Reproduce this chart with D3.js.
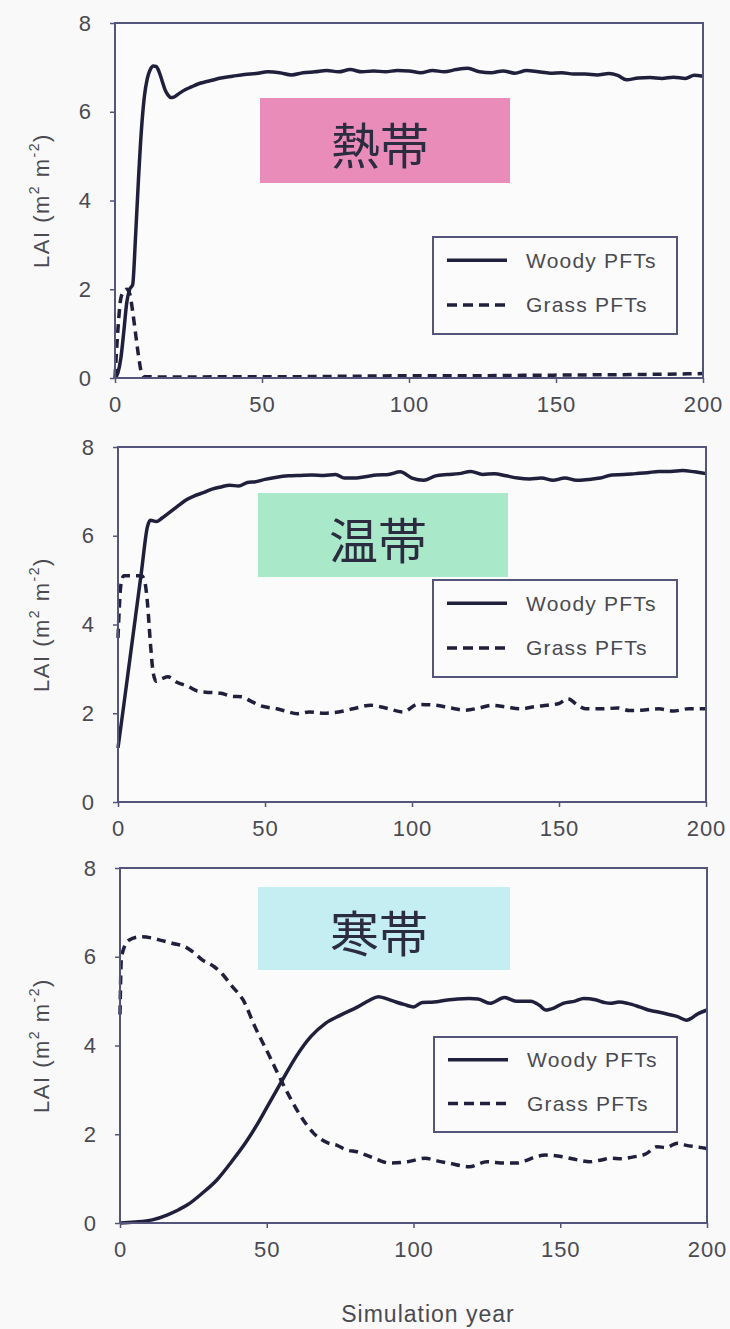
<!DOCTYPE html>
<html>
<head>
<meta charset="utf-8">
<script src="https://cdn.jsdelivr.net/npm/d3@7/dist/d3.min.js"></script>
<style>
  html, body { margin: 0; padding: 0; background: #f9f9f9; }
  svg { display: block; }
</style>
</head>
<body>
<script>
// Leaf area index over 200 simulation years, for three climate zones.
const xTicks = [0, 50, 100, 150, 200];
const yTicks = [0, 2, 4, 6, 8];
const zoneNames = ["熱帯", "温帯", "寒帯"];
const zoneColors = ["#ea8cba", "#a9e9ca", "#c4eef1"];
const seriesNames = ["Woody PFTs", "Grass PFTs"];

// [year, LAI] — tropical
const tropicalWoody = [
  [0,0],[1,0.12],[2,0.45],[3,1.05],[4,1.7],[5,2.0],[6,2.1],[7,3.2],[8,4.5],[9,5.6],
  [10,6.35],[11,6.75],[12,6.95],[13,7.03],[14,7.02],[15,6.9],[16,6.7],[17,6.5],[18,6.38],
  [19,6.32],[20,6.33],[22,6.42],[24,6.5],[26,6.56],[28,6.62],[30,6.66],[33,6.71],[36,6.76],
  [40,6.8],[44,6.84],[48,6.86],[52,6.9],[56,6.88],[60,6.83],[64,6.88],[68,6.9],[72,6.93],
  [76,6.9],[80,6.95],[84,6.9],[88,6.92],[92,6.9],[96,6.93],[100,6.92],[104,6.88],[108,6.93],
  [112,6.9],[116,6.95],[120,6.98],[124,6.9],[128,6.88],[132,6.92],[136,6.87],[140,6.93],
  [144,6.9],[148,6.87],[152,6.88],[156,6.85],[160,6.85],[164,6.83],[168,6.86],[171,6.82],
  [174,6.72],[178,6.76],[182,6.77],[186,6.75],[190,6.78],[194,6.75],[197,6.82],[200,6.8]
];
const tropicalGrass = [
  [0,0],[1,1.1],[2,1.8],[3,1.95],[4,2.0],[5,1.9],[6,1.5],[7,1.0],[8,0.5],[9,0.12],
  [10,0.03],[20,0.02],[40,0.03],[60,0.03],[80,0.04],[100,0.05],[120,0.05],[140,0.06],
  [160,0.07],[180,0.08],[200,0.1]
];

// [year, LAI] — temperate
const temperateWoody = [
  [0,1.22],[2,2.2],[4,3.2],[6,4.2],[8,5.2],[10,6.2],[11,6.35],[13,6.32],[15,6.4],[17,6.5],
  [20,6.65],[23,6.8],[26,6.9],[29,6.97],[32,7.05],[35,7.1],[38,7.14],[41,7.12],[44,7.2],
  [47,7.22],[50,7.27],[54,7.32],[58,7.35],[62,7.36],[66,7.37],[70,7.36],[74,7.38],[77,7.3],
  [80,7.3],[84,7.33],[88,7.37],[92,7.38],[96,7.44],[100,7.3],[104,7.25],[108,7.35],[112,7.38],
  [116,7.4],[120,7.45],[124,7.38],[128,7.4],[132,7.35],[136,7.3],[140,7.28],[144,7.3],
  [148,7.25],[152,7.3],[156,7.25],[160,7.27],[164,7.3],[168,7.37],[172,7.38],[176,7.4],
  [180,7.42],[184,7.45],[188,7.45],[192,7.47],[196,7.44],[200,7.4]
];
const temperateGrass = [
  [0,3.7],[1,4.9],[2,5.1],[4,5.1],[6,5.1],[8,5.1],[9,5.0],[10,4.5],[11,3.6],[12,2.9],
  [13,2.72],[15,2.78],[17,2.82],[20,2.7],[24,2.6],[27,2.5],[31,2.47],[35,2.45],[39,2.38],
  [42,2.37],[45,2.28],[48,2.18],[54,2.1],[57,2.05],[61,1.99],[65,2.03],[70,2.0],[75,2.03],
  [80,2.1],[86,2.18],[91,2.12],[97,2.03],[102,2.2],[108,2.18],[113,2.12],[118,2.07],
  [123,2.12],[127,2.18],[132,2.14],[137,2.1],[142,2.15],[146,2.18],[150,2.22],[153,2.33],
  [156,2.2],[159,2.1],[165,2.1],[170,2.12],[174,2.06],[178,2.07],[184,2.1],[189,2.05],
  [194,2.1],[200,2.1]
];

// [year, LAI] — boreal
const borealWoody = [
  [0,0],[5,0.02],[11,0.07],[16,0.18],[20,0.3],[23,0.41],[28,0.67],[33,0.97],[38,1.38],
  [43,1.83],[47,2.25],[50,2.6],[53,2.95],[56,3.3],[60,3.75],[65,4.2],[70,4.5],[75,4.68],[81,4.87],
  [85,5.02],[88,5.1],[91,5.05],[94,4.98],[97,4.92],[100,4.87],[103,4.97],[107,4.98],
  [111,5.02],[115,5.05],[119,5.06],[122,5.05],[126,4.95],[131,5.08],[135,5.0],[140,5.0],
  [143,4.9],[145,4.8],[148,4.85],[151,4.95],[155,5.0],[158,5.06],[162,5.03],[165,4.97],
  [167,4.95],[170,4.98],[173,4.95],[177,4.87],[180,4.8],[183,4.76],[187,4.7],[190,4.65],
  [193,4.57],[197,4.72],[200,4.8]
];
const borealGrass = [
  [0,4.7],[0.5,6.0],[3,6.37],[7,6.45],[11,6.42],[14,6.37],[18,6.3],[22,6.23],[25,6.1],
  [28,5.93],[32,5.78],[35,5.6],[38,5.35],[42,5.02],[46,4.42],[51,3.75],[56,3.07],
  [61,2.47],[66,2.02],[71,1.8],[74,1.75],[77,1.65],[81,1.6],[85,1.5],[88,1.42],[92,1.35],
  [98,1.38],[104,1.46],[108,1.4],[112,1.35],[119,1.27],[125,1.38],[131,1.35],[135,1.35],
  [138,1.4],[142,1.5],[145,1.53],[151,1.49],[156,1.42],[160,1.38],[164,1.42],[167,1.46],
  [171,1.45],[175,1.49],[179,1.55],[183,1.72],[186,1.7],[190,1.8],[193,1.75],[196,1.72],
  [200,1.68]
];

const panelSeries = [
  [tropicalWoody, tropicalGrass],
  [temperateWoody, temperateGrass],
  [borealWoody, borealGrass]
];

const W = 730, H = 1329;
const ink = "#20203c";
const frame = "#55557c";
const labelInk = "#4a4a52";
const latin = "'Liberation Sans', Arial, sans-serif";
const cjk = "'Noto Sans CJK JP', 'Noto Sans CJK SC', sans-serif";

// Per-panel frame and annotation boxes
const panels = [
  { left: 115, right: 703, top: 23,  bottom: 378,
    zone: { x: 260, y: 98,  w: 250, h: 85 },
    legend: { x: 433, y: 237, w: 244, h: 97 } },
  { left: 118, right: 706, top: 447, bottom: 802,
    zone: { x: 258, y: 493, w: 250, h: 84 },
    legend: { x: 433, y: 580, w: 244, h: 97 } },
  { left: 120, right: 707, top: 868, bottom: 1223,
    zone: { x: 258, y: 887, w: 252, h: 83 },
    legend: { x: 434, y: 1037, w: 243, h: 95 } }
];

const svg = d3.select("body").append("svg")
  .attr("width", W).attr("height", H)
  .style("background", "#f9f9f9");

panels.forEach((p, i) => {
  const x = d3.scaleLinear().domain([0, 200]).range([p.left, p.right]);
  const y = d3.scaleLinear().domain([0, 8]).range([p.bottom, p.top]);
  const g = svg.append("g");

  // plot area
  g.append("rect")
    .attr("x", p.left).attr("y", p.top)
    .attr("width", p.right - p.left).attr("height", p.bottom - p.top)
    .attr("fill", "#fbfbfb");

  // climate zone label box
  g.append("rect")
    .attr("x", p.zone.x).attr("y", p.zone.y)
    .attr("width", p.zone.w).attr("height", p.zone.h)
    .attr("fill", zoneColors[i]);
  g.append("text")
    .attr("x", p.zone.x + p.zone.w / 2 - 5).attr("y", p.zone.y + p.zone.h / 2 + 2)
    .attr("text-anchor", "middle").attr("dominant-baseline", "central")
    .attr("font-family", cjk).attr("font-size", 49).attr("font-weight", 400)
    .attr("fill", "#2c2c40")
    .text(zoneNames[i]);

  // series
  const line = d3.line()
    .x(d => x(d[0])).y(d => y(d[1]))
    .curve(d3.curveMonotoneX);
  const [woody, grass] = panelSeries[i];
  g.append("path").datum(grass)
    .attr("d", line).attr("fill", "none")
    .attr("stroke", ink).attr("stroke-width", 3.5)
    .attr("stroke-dasharray", "9,6");
  g.append("path").datum(woody)
    .attr("d", line).attr("fill", "none")
    .attr("stroke", ink).attr("stroke-width", 3.5)
    .attr("stroke-linejoin", "round");

  // frame
  g.append("rect")
    .attr("x", p.left).attr("y", p.top)
    .attr("width", p.right - p.left).attr("height", p.bottom - p.top)
    .attr("fill", "none").attr("stroke", frame).attr("stroke-width", 2);

  // axes
  const yAxis = d3.axisLeft(y).tickValues(yTicks).tickSize(5).tickPadding(18);
  const xAxis = d3.axisBottom(x).tickValues(xTicks).tickSize(5).tickPadding(13);
  const ya = g.append("g").attr("transform", `translate(${p.left},0)`).call(yAxis);
  const xa = g.append("g").attr("transform", `translate(0,${p.bottom})`).call(xAxis);
  [ya, xa].forEach(a => {
    a.select(".domain").remove();
    a.selectAll(".tick line").attr("stroke", frame).attr("stroke-width", 1.5);
    a.selectAll(".tick text")
      .attr("font-family", latin).attr("font-size", 22)
      .attr("letter-spacing", 1)
      .attr("fill", labelInk);
  });

  // y axis title
  const cy = (p.top + p.bottom) / 2;
  const yt = g.append("text")
    .attr("transform", `translate(49,${cy}) rotate(-90)`)
    .attr("text-anchor", "middle")
    .attr("font-family", latin).attr("font-size", 22)
    .attr("letter-spacing", 1.5)
    .attr("fill", labelInk);
  yt.append("tspan").text("LAI (m");
  yt.append("tspan").attr("dy", -10).attr("font-size", 14).text("2");
  yt.append("tspan").attr("dy", 10).text(" m");
  yt.append("tspan").attr("dy", -10).attr("font-size", 14).text("-2");
  yt.append("tspan").attr("dy", 10).text(")");

  // legend
  const L = p.legend;
  g.append("rect")
    .attr("x", L.x).attr("y", L.y).attr("width", L.w).attr("height", L.h)
    .attr("fill", "#fbfbfb").attr("stroke", frame).attr("stroke-width", 2);
  seriesNames.forEach((name, k) => {
    const ly = L.y + L.h * (k === 0 ? 0.24 : 0.7);
    g.append("line")
      .attr("x1", L.x + 14).attr("x2", L.x + 74)
      .attr("y1", ly).attr("y2", ly)
      .attr("stroke", ink).attr("stroke-width", 3.5)
      .attr("stroke-dasharray", k === 0 ? null : "10,6");
    g.append("text")
      .attr("x", L.x + 93).attr("y", ly)
      .attr("dominant-baseline", "central")
      .attr("font-family", latin).attr("font-size", 21)
      .attr("letter-spacing", 1.2)
      .attr("fill", labelInk)
      .text(name);
  });
});

// shared x axis title
svg.append("text")
  .attr("x", 428).attr("y", 1322)
  .attr("text-anchor", "middle")
  .attr("font-family", latin).attr("font-size", 23)
  .attr("letter-spacing", 1)
  .attr("fill", labelInk)
  .text("Simulation year");
</script>
</body>
</html>
